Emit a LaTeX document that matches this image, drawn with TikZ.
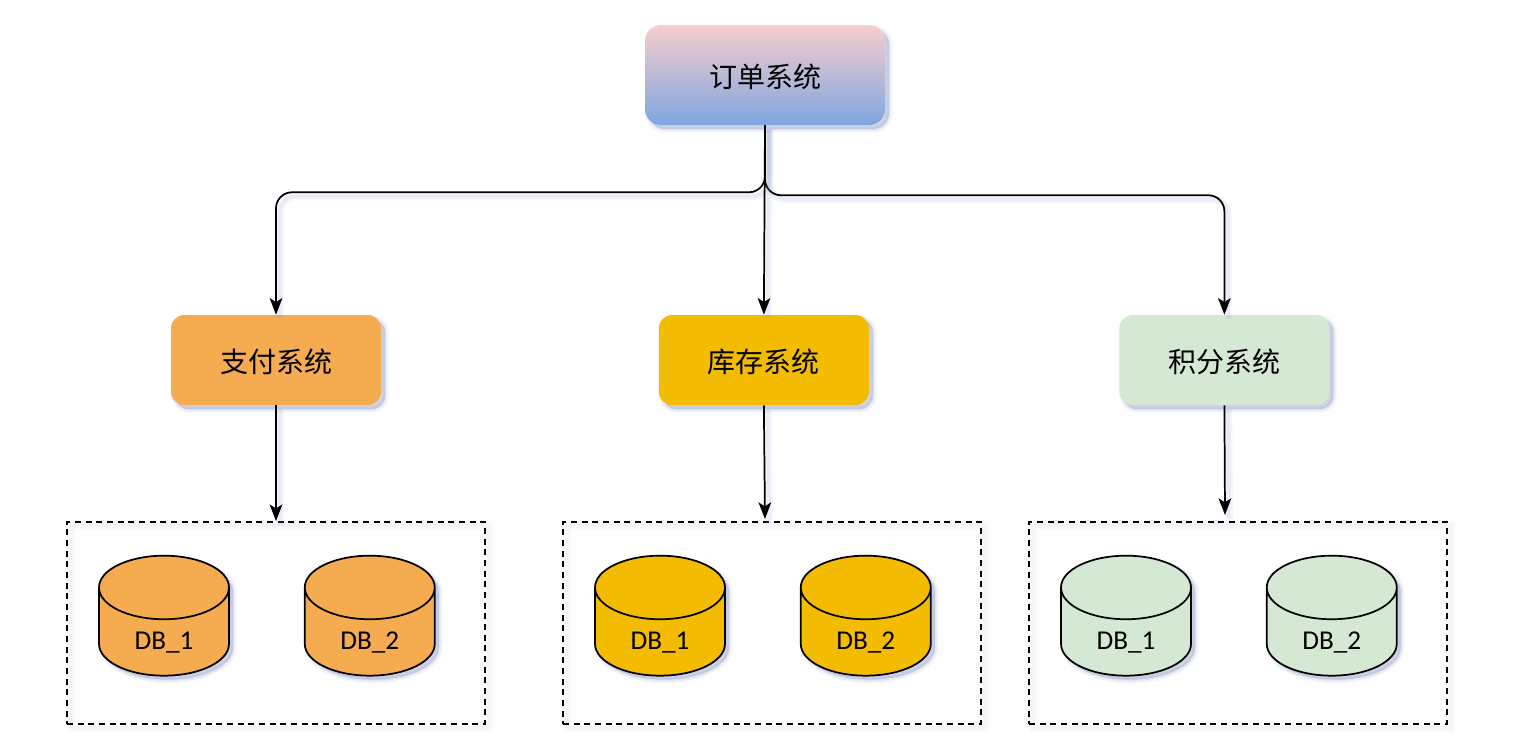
\documentclass[tikz,border=0pt]{standalone}
\usepackage{fontspec}
\setmainfont{Carlito}
\newfontfamily\cjk{Noto Sans CJK SC}
\usetikzlibrary{arrows.meta,shapes.geometric,shadows,positioning}
\definecolor{shadowc}{HTML}{8E9AC4}
\definecolor{payc}{HTML}{F5AB50}
\definecolor{stockc}{HTML}{F4BC00}
\definecolor{scorec}{HTML}{D5E8D4}
\definecolor{topc}{HTML}{F8CECC}
\definecolor{botc}{HTML}{7EA6E0}
\newcommand{\dbname}[1]{\raisebox{-13pt}[0pt][0pt]{#1}}
\tikzset{
softshadow/.style={
general shadow={shadow xshift=3pt,shadow yshift=-3pt,draw=shadowc,line width=6pt,draw opacity=.06,fill=shadowc,fill opacity=.06},
general shadow={shadow xshift=3pt,shadow yshift=-3pt,draw=shadowc,line width=4pt,draw opacity=.09,fill=shadowc,fill opacity=.09},
general shadow={shadow xshift=3pt,shadow yshift=-3pt,draw=shadowc,line width=2pt,draw opacity=.12,fill=shadowc,fill opacity=.12},
general shadow={shadow xshift=3pt,shadow yshift=-3pt,draw=none,fill=shadowc,fill opacity=.2}},
boxtext/.style={font=\cjk\fontsize{21}{21}\selectfont,text height=19pt,text depth=0pt},
topbox/.style={rectangle,rounded corners=12pt,minimum width=180pt,minimum height=75pt,softshadow,
top color=topc,bottom color=botc,inner sep=0pt,boxtext},
midbox/.style={rectangle,rounded corners=10pt,minimum width=157.5pt,minimum height=67.5pt,softshadow,inner sep=0pt,boxtext},
dbcyl/.style={cylinder,shape border rotate=90,aspect=1.08,minimum width=97.5pt,minimum height=90pt,draw=black,line width=1.3pt,
softshadow,inner sep=0pt,font=\fontsize{20.4}{20.4}\selectfont},
groupbox/.style={rectangle,draw=black,dash pattern=on 4.5pt off 3.5pt,line width=1.3pt,minimum width=313.5pt,minimum height=151.5pt,inner sep=0pt,
preaction={draw=shadowc,draw opacity=.05,line width=6pt,solid,transform canvas={shift={(3pt,-3pt)}}},
preaction={draw=shadowc,draw opacity=.05,line width=3pt,solid,transform canvas={shift={(3pt,-3pt)}}}},
link/.style={-{Stealth[length=12.5pt,width=9.5pt,inset=3pt]},line width=1.3pt,rounded corners=12pt,
preaction={draw=shadowc,draw opacity=.08,line width=6pt,-,transform canvas={shift={(3pt,-3pt)}}},
preaction={draw=shadowc,draw opacity=.12,line width=3pt,-,transform canvas={shift={(3pt,-3pt)}}}}
}
\begin{document}
\begin{tikzpicture}[x=.75pt,y=-.75pt]
  \useasboundingbox (0,0) rectangle (1518,750);

  \node[topbox] (order) at (765,75) {订单系统};
  \node[midbox,fill=payc] (pay) at (276,360) {支付系统};
  \node[midbox,fill=stockc,right=208pt of pay] (stock) {库存系统};
  \node[midbox,fill=scorec,right=187.5pt of stock] (score) {积分系统};

  \node[groupbox] (paygrp) at (276,623) {};
  \node[groupbox] (stockgrp) at (772,623) {};
  \node[groupbox] (scoregrp) at (1238,623) {};

  \node[dbcyl,fill=payc] (pay1) at (164,632) {\dbname{DB\_1}};
  \node[dbcyl,fill=payc,right=55.5pt of pay1] (pay2) {\dbname{DB\_2}};
  \node[dbcyl,fill=stockc] (stock1) at (660,632) {\dbname{DB\_1}};
  \node[dbcyl,fill=stockc,right=55.5pt of stock1] (stock2) {\dbname{DB\_2}};
  \node[dbcyl,fill=scorec] (score1) at (1126,632) {\dbname{DB\_1}};
  \node[dbcyl,fill=scorec,right=55.5pt of score1] (score2) {\dbname{DB\_2}};

  \coordinate (stockin) at (765,519);
  \coordinate (scorein) at (1225,515);

  \draw[link] (order.south) -- ++(0,67) -| (pay.north);
  \draw[link] (order.south) -- ++(0,70) -| (score.north);
  \draw[link] (order.south) -- (stock.north);
  \draw[link] (pay.south) -- (paygrp.north);
  \draw[link] (stock.south) -- (stockin);
  \draw[link] (score.south) -- (scorein);
\end{tikzpicture}
\end{document}
